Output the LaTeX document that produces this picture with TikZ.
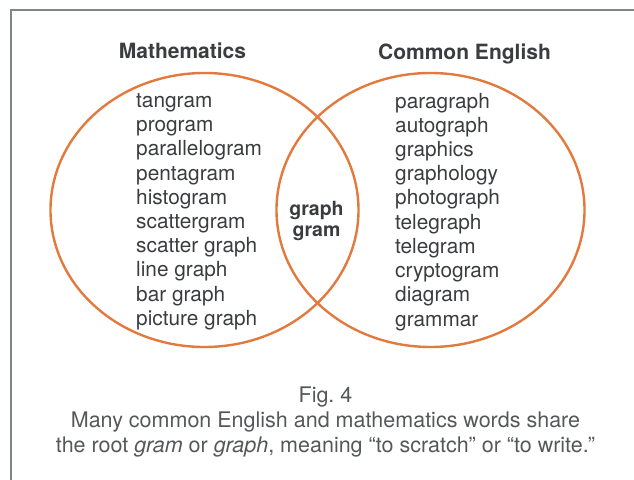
\documentclass[tikz,border=0pt]{standalone}
\usepackage{fontspec}
\setmainfont{TeX Gyre Heros}
\usetikzlibrary{shapes.geometric,positioning}
\definecolor{vennorange}{RGB}{226,122,62}
\definecolor{inkgray}{RGB}{58,60,63}
\definecolor{capgray}{RGB}{85,87,90}
\definecolor{framegray}{RGB}{128,133,133}
\tikzset{
  set/.style={ellipse, draw=vennorange, line width=2.4bp, minimum width=308bp,
    minimum height=274bp, inner sep=0pt},
  settitle/.style={font=\fontsize{21bp}{24bp}\selectfont\bfseries, text=inkgray,
    inner sep=0pt, anchor=base},
  words/.style={font=\fontsize{20.8bp}{24.2bp}\selectfont, text=inkgray, align=left,
    inner sep=0pt, anchor=base west},
  root/.style={font=\fontsize{19.5bp}{21.5bp}\selectfont\bfseries, text=inkgray,
    align=center, inner sep=0pt, anchor=base},
  caption/.style={font=\fontsize{21.5bp}{25bp}\selectfont, text=capgray, align=center,
    inner sep=0pt, anchor=base},
}

\begin{document}
\begin{tikzpicture}[x=1bp, y=-1bp]
  \useasboundingbox (0,0) rectangle (634,480);
  % frame
  \draw[framegray, line width=2bp] (11,500) -- (11,10) -- (660,10);

  % the two sets
  \node[set] (math) at (204.5,210) {};
  \node[set] (english) at (430.5,210) {};

  \node[settitle] (mathtitle) at (182.5,58.3) {Mathematics};
  \node[settitle] (englishtitle) at (464.5,59.5) {Common English};

  % base anchor sits on the last line
  \node[words] (mathwords) at (136,325.3) {tangram\\program\\parallelogram\\pentagram\\histogram\\scattergram\\scatter graph\\line graph\\bar graph\\picture graph};
  \node[words] (englishwords) at (395,326) {paragraph\\autograph\\graphics\\graphology\\photograph\\telegraph\\telegram\\cryptogram\\diagram\\grammar};
  \node[root] (roots) at (316.5,237) {graph\\gram};

  \node[caption] (fig) at (325.5,452) {Fig.~4\\Many common English and mathematics words share\\the root \textit{gram} or \textit{graph}, meaning “to scratch” or “to write.”};
\end{tikzpicture}
\end{document}
